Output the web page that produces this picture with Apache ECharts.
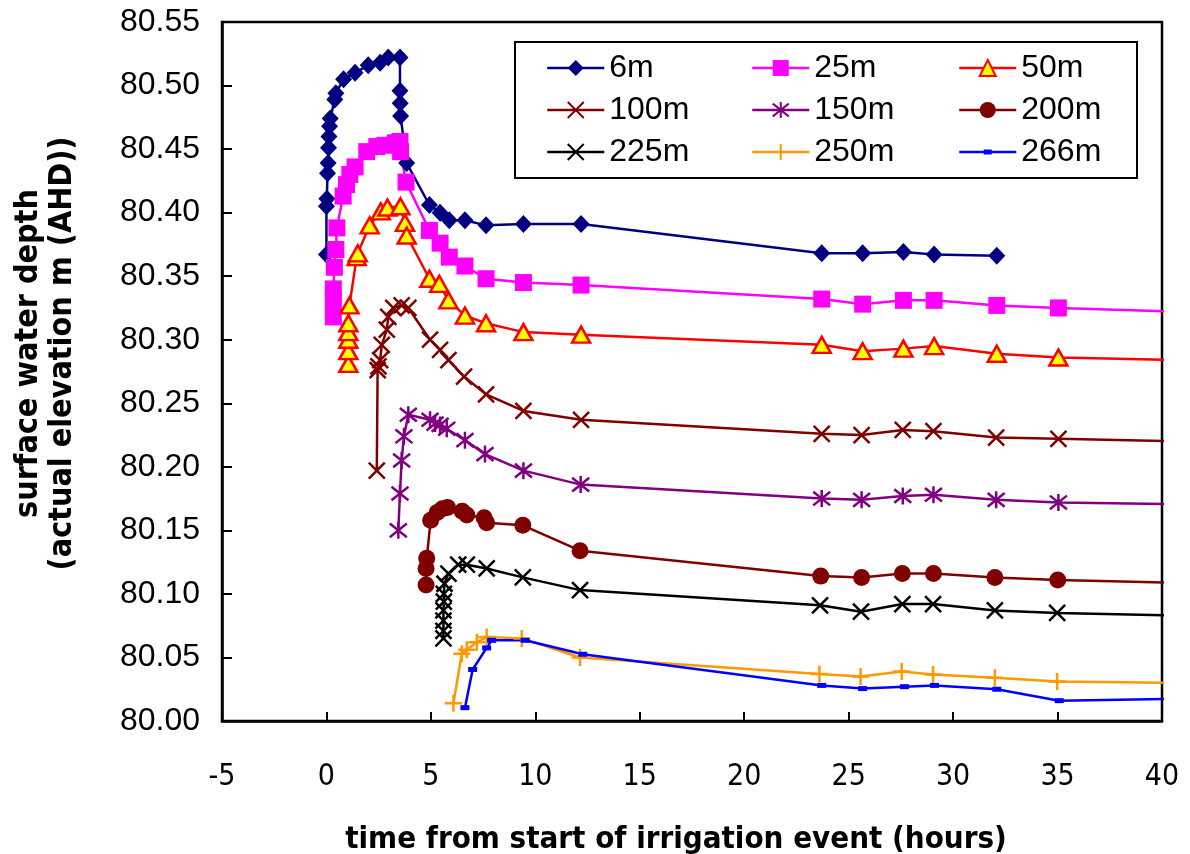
<!DOCTYPE html>
<html>
<head>
<meta charset="utf-8">
<script src="https://cdn.jsdelivr.net/npm/echarts@6/dist/echarts.min.js"></script>
<style>
  html, body { margin: 0; padding: 0; background: #fff; }
  #chart { width: 1190px; height: 854px; }
</style>
</head>
<body>
<div id="chart"></div>
<script>
// Surface water level at distances along the bay, hours after irrigation start
const seriesNames = ['6m', '25m', '50m', '100m', '150m', '200m', '225m', '250m', '266m'];

const t6 = [0.00, 0.00, 0.02, 0.05, 0.08, 0.10, 0.12, 0.15, 0.18, 0.40, 0.45, 0.82, 1.37, 2.00, 2.57, 2.96, 3.52, 3.52, 3.53, 3.55, 3.84, 4.93, 5.44, 5.88, 6.63, 7.64, 9.43, 12.19, 23.71, 25.67, 27.62, 29.09, 32.09];
const v6 = [80.367, 80.405, 80.411, 80.431, 80.439, 80.451, 80.460, 80.468, 80.474, 80.489, 80.494, 80.505, 80.510, 80.516, 80.518, 80.522, 80.522, 80.496, 80.486, 80.476, 80.439, 80.406, 80.400, 80.394, 80.394, 80.390, 80.391, 80.391, 80.368, 80.368, 80.369, 80.367, 80.366];

const t25 = [0.33, 0.33, 0.33, 0.38, 0.45, 0.50, 0.80, 0.96, 1.12, 1.37, 1.93, 2.41, 2.80, 3.30, 3.52, 3.55, 3.81, 4.93, 5.44, 5.88, 6.63, 7.64, 9.43, 12.19, 23.71, 25.67, 27.62, 29.09, 32.09, 35.04, 47.0];
const v25 = [80.318, 80.331, 80.340, 80.357, 80.371, 80.388, 80.413, 80.422, 80.430, 80.436, 80.448, 80.452, 80.453, 80.455, 80.456, 80.448, 80.424, 80.386, 80.376, 80.365, 80.358, 80.348, 80.345, 80.343, 80.332, 80.328, 80.331, 80.331, 80.327, 80.325, 80.319];

const t50 = [1.05, 1.05, 1.05, 1.05, 1.05, 1.10, 1.45, 1.50, 2.07, 2.60, 2.92, 3.54, 3.76, 3.84, 4.93, 5.40, 5.84, 6.63, 7.64, 9.43, 12.19, 23.71, 25.67, 27.62, 29.09, 32.09, 35.04, 47.0];
const v50 = [80.281, 80.291, 80.300, 80.306, 80.313, 80.327, 80.365, 80.368, 80.390, 80.401, 80.404, 80.405, 80.392, 80.382, 80.348, 80.344, 80.331, 80.319, 80.313, 80.306, 80.304, 80.296, 80.291, 80.293, 80.295, 80.289, 80.286, 80.282];

const t100 = [2.41, 2.45, 2.49, 2.57, 2.65, 2.89, 2.96, 3.20, 3.60, 3.92, 4.96, 5.44, 5.84, 6.59, 7.64, 9.43, 12.19, 23.71, 25.62, 27.59, 29.06, 32.06, 35.04, 47.0];
const v100 = [80.197, 80.276, 80.279, 80.284, 80.296, 80.308, 80.318, 80.325, 80.327, 80.325, 80.300, 80.292, 80.284, 80.271, 80.257, 80.244, 80.237, 80.226, 80.225, 80.229, 80.228, 80.223, 80.222, 80.218];

const t150 = [3.44, 3.52, 3.60, 3.71, 3.92, 4.96, 5.20, 5.44, 5.76, 6.63, 7.59, 9.43, 12.17, 23.71, 25.62, 27.59, 29.06, 32.06, 35.04, 47.0];
const v150 = [80.150, 80.179, 80.205, 80.224, 80.241, 80.237, 80.234, 80.233, 80.230, 80.221, 80.210, 80.197, 80.186, 80.175, 80.174, 80.177, 80.178, 80.174, 80.172, 80.169];

const t200 = [4.77, 4.77, 4.80, 4.99, 5.30, 5.55, 5.80, 6.50, 6.72, 7.55, 7.67, 9.40, 12.14, 23.66, 25.62, 27.57, 29.06, 32.00, 35.01, 47.0];
const v200 = [80.107, 80.120, 80.128, 80.158, 80.164, 80.167, 80.168, 80.165, 80.162, 80.160, 80.156, 80.154, 80.134, 80.114, 80.113, 80.116, 80.116, 80.113, 80.111, 80.106];

const t225 = [5.60, 5.60, 5.60, 5.60, 5.62, 5.62, 5.65, 5.84, 6.31, 6.72, 7.67, 9.40, 12.14, 23.63, 25.59, 27.57, 29.04, 32.00, 34.98, 47.0];
const v225 = [80.065, 80.071, 80.079, 80.087, 80.094, 80.100, 80.108, 80.116, 80.123, 80.123, 80.120, 80.113, 80.103, 80.091, 80.086, 80.092, 80.092, 80.087, 80.085, 80.081];

const t250 = [6.08, 6.48, 6.72, 7.20, 7.67, 9.35, 12.14, 23.60, 25.57, 27.54, 29.04, 32.00, 34.98, 47.0];
const v250 = [80.014, 80.053, 80.056, 80.062, 80.066, 80.065, 80.050, 80.037, 80.035, 80.039, 80.0365, 80.034, 80.031, 80.029];

const t266 = [6.63, 7.00, 7.67, 7.91, 9.51, 12.27, 23.71, 25.67, 27.67, 29.11, 32.09, 35.08, 47.0];
const v266 = [80.0105, 80.0405, 80.0575, 80.0635, 80.0635, 80.0525, 80.028, 80.0255, 80.027, 80.028, 80.025, 80.016, 80.019];

const xTicks = { min: -5, max: 40, step: 5 };
const yTicks = { min: 80.00, max: 80.55, step: 0.05 };

const pair = (ts, vs) => ts.map((t, i) => [t, vs[i]]);

const CROSS = 'path://M0,0L10,10M10,0L0,10';
const STAR = 'path://M1,1L9,9M9,1L1,9M5,0L5,10';
const PLUS = 'path://M5,0L5,10M0,5L10,5';
// legend key for the 266m series: thin line with a small dash, laid out in a 57x20 box
const DASH_ICON = 'path://M0,0M57,20M0,8.75L57,8.75L57,11.25L0,11.25ZM24.5,7.5L32.5,7.5L32.5,12.5L24.5,12.5Z';

const REG = "'Liberation Sans', Arial, sans-serif";
const NARROW = "'DejaVu Sans Condensed', 'Liberation Sans Narrow', sans-serif";

function makeSeries(name, data, color, symbol, size, extraItem) {
  return {
    name: name,
    type: 'line',
    data: data,
    clip: true,
    symbol: symbol,
    symbolSize: size,
    lineStyle: { color: color, width: 2.5 },
    itemStyle: Object.assign({ color: color, borderColor: color, borderWidth: 0 }, extraItem || {}),
    emphasis: { disabled: true },
    animation: false,
    z: 2
  };
}

const series = [
  makeSeries('6m', pair(t6, v6), '#000080', 'diamond', [17, 18]),
  makeSeries('25m', pair(t25, v25), '#FF00FF', 'rect', 17),
  makeSeries('50m', pair(t50, v50), '#FF0000', 'triangle', [18, 16], { color: '#FFFF00', borderColor: '#FF0000', borderWidth: 2.5 }),
  makeSeries('100m', pair(t100, v100), '#800000', CROSS, 16, { borderWidth: 2.5 }),
  makeSeries('150m', pair(t150, v150), '#800080', STAR, 17, { borderWidth: 2.5 }),
  makeSeries('200m', pair(t200, v200), '#800000', 'circle', 17),
  makeSeries('225m', pair(t225, v225), '#000000', CROSS, 16, { borderWidth: 2.5 }),
  makeSeries('250m', pair(t250, v250), '#FF9900', PLUS, 17, { borderWidth: 2.5 }),
  makeSeries('266m', pair(t266, v266), '#0000FF', 'rect', [9, 5])
];

function legendColumn(left, names) {
  return {
    orient: 'vertical',
    left: left,
    top: 52,
    padding: 0,
    itemWidth: 57,
    itemHeight: 20,
    itemGap: 10,
    selectedMode: false,
    data: names,
    lineStyle: { width: 2.5 },
    textStyle: { fontFamily: REG, fontSize: 32, color: '#000' }
  };
}

const chart = echarts.init(document.getElementById('chart'), null, { renderer: 'canvas' });
chart.setOption({
  backgroundColor: '#fff',
  animation: false,
  grid: {
    left: 222, right: 28, top: 22, bottom: 133,
    outerBoundsMode: 'none',
    show: true, borderColor: '#000', borderWidth: 2.5, backgroundColor: 'transparent'
  },
  legend: [
    legendColumn(546, [seriesNames[0], seriesNames[3], seriesNames[6]]),
    legendColumn(751, [seriesNames[1], seriesNames[4], seriesNames[7]]),
    legendColumn(958, [seriesNames[2], seriesNames[5], { name: seriesNames[8], icon: DASH_ICON }])
  ],
  graphic: [{
    type: 'rect',
    shape: { x: 515, y: 42, width: 622, height: 136 },
    style: { fill: '#fff', stroke: '#000', lineWidth: 2 },
    z: 3
  }],
  xAxis: {
    type: 'value',
    min: xTicks.min, max: xTicks.max, interval: xTicks.step,
    name: 'time from start of irrigation event (hours)',
    nameLocation: 'middle',
    nameGap: 103,
    nameTextStyle: { fontFamily: NARROW, fontSize: 31, fontWeight: 'bold', color: '#000', padding: [0, 32, 0, 0] },
    axisLine: { onZero: false, lineStyle: { color: '#000', width: 2.5 } },
    axisTick: { inside: true, length: 9, lineStyle: { color: '#000', width: 2 } },
    axisLabel: { margin: 41, fontFamily: NARROW, fontSize: 30, color: '#000' },
    splitLine: { show: false }
  },
  yAxis: {
    type: 'value',
    min: yTicks.min, max: yTicks.max, interval: yTicks.step,
    name: 'surface water depth\n(actual elevation m (AHD))',
    nameLocation: 'middle',
    nameGap: 142,
    nameTextStyle: { fontFamily: NARROW, fontSize: 32, fontWeight: 'bold', color: '#000', lineHeight: 34, align: 'center', padding: [0, 0, 0, 36] },
    axisLine: { onZero: false, lineStyle: { color: '#000', width: 2.5 } },
    axisTick: { inside: true, length: 10, lineStyle: { color: '#000', width: 2 } },
    axisLabel: { margin: 22, fontFamily: REG, fontSize: 32, color: '#000', formatter: v => v.toFixed(2) },
    splitLine: { show: false }
  },
  series: series
});
</script>
</body>
</html>
